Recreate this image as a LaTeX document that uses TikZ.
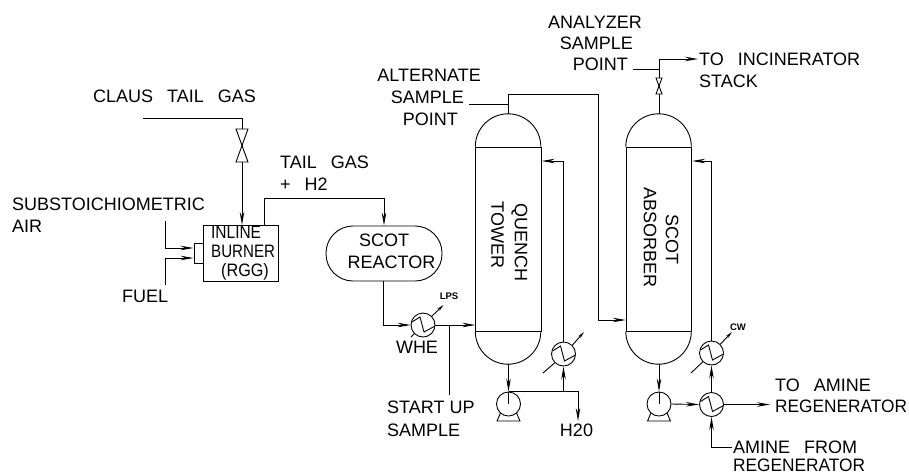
\documentclass[tikz,border=0pt]{standalone}
\usepackage{fontspec}
\setmainfont{Liberation Sans}
\usetikzlibrary{arrows.meta, calc}

\newcommand{\wsp}{\hspace*{14pt}}

\tikzset{
  line/.style={draw, line width=0.9pt},
  flow/.style={line, -{Stealth[length=13pt, width=4.5pt]}},
  tipflow/.style={line, -{Stealth[length=7pt, width=3pt]}},
  txt/.style={inner sep=0pt, font=\fontsize{18}{20}\selectfont},
  tiny/.style={inner sep=0pt, font=\fontsize{9.5}{10}\selectfont\bfseries},
  exch/.style={draw, line width=0.9pt, circle, inner sep=0pt, minimum size=24pt,
    path picture={\draw[line width=0.9pt] ($(path picture bounding box.center)+(-11pt,3pt)$) -- ++(8pt,5pt) -- ++(4pt,-15pt) -- ++(11pt,6pt);}},
  pump/.style={draw, line width=0.9pt, circle, inner sep=0pt, minimum size=24pt},
  vessel/.style={draw, line width=0.9pt, inner sep=0pt, minimum width=65.5pt, minimum height=184pt},
  valve/.style={draw, line width=0.9pt, fill=white},
}

\begin{document}
\begin{tikzpicture}[x=1pt, y=-1pt]
   \useasboundingbox (0,0) rectangle (909,475);

   % equipment
   \node[draw, line width=0.9pt, inner sep=0pt, minimum width=74.5pt, minimum height=55.5pt] (burner) at (240.7,253.2) {};
   \node[draw, line width=0.9pt, inner sep=0pt, minimum width=9.5pt, minimum height=20pt] (nozzle) at (198.7,253) {};
   \node[draw, line width=0.9pt, rounded corners=27pt, inner sep=0pt, minimum width=116pt, minimum height=55pt] (reactor) at (384,253.5) {};
   \node[vessel] (quench) at (508.5,239) {};
   \node[vessel] (absorber) at (659,239) {};
   \draw[line width=0.9pt] (quench.north west) arc[start angle=180, end angle=0, radius=32.75pt]
      (quench.south west) arc[start angle=180, end angle=360, radius=32.75pt];
   \draw[line width=0.9pt] (absorber.north west) arc[start angle=180, end angle=0, radius=32.75pt]
      (absorber.south west) arc[start angle=180, end angle=360, radius=32.75pt];
   \coordinate (quenchtop) at (508.5,114);
   \coordinate (quenchbot) at (508.5,363.5);
   \coordinate (abstop) at (659,114);
   \coordinate (absbot) at (659,363.5);

   \node[exch] (whe) at (423,325) {};
   \node[exch] (quenchcool) at (563.5,354) {};
   \node[exch] (abscool) at (711.5,353) {};
   \node[exch] (amineex) at (711.5,404.5) {};
   \node[pump] (quenchpump) at (508.5,404) {};
   \node[pump] (abspump) at (659,404) {};
   \foreach \p in {quenchpump, abspump} {
      \draw[line width=0.9pt] (\p.center) -- (\p.north);
      \draw[line width=0.9pt] ($(\p.center)+(-8pt,-9pt)$) -- ($(\p.center)+(-11.5pt,-17pt)$) -- ($(\p.center)+(11.5pt,-17pt)$) -- ($(\p.center)+(8pt,-9pt)$);
   }

   % free ends
   \coordinate (clausin) at (143,118);
   \coordinate (airin) at (165,221);
   \coordinate (fuelin) at (165,285);
   \coordinate (startup) at (449,395);
   \coordinate (altstub) at (469,104);
   \coordinate (anastub) at (633,69);
   \coordinate (stackout) at (698,59);
   \coordinate (h2oout) at (578,421);
   \coordinate (regenout) at (770,404.5);
   \coordinate (aminein) at (732,447);
   \coordinate (lpstip) at (443.5,305);
   \coordinate (wheend) at (411,337);
   \coordinate (qctip) at (584,332);
   \coordinate (qcend) at (543,373);
   \coordinate (actip) at (732,332);
   \coordinate (acend) at (691,373);

   % lines
   \draw[flow] (clausin) -| (burner.north -| 242,0);
   \draw[flow] (airin) |- ($(nozzle.west)+(0,-5)$);
   \draw[flow] (fuelin) |- ($(nozzle.west)+(0,5)$);
   \draw[flow] (burner.north -| 264,0) |- (384,198) -- (reactor.north);
   \draw[flow] (reactor.south -| 383,0) |- (whe.west);
   \draw[flow] (whe.east) -- (quench.west |- whe.east);
   \draw[line] (startup) -- (startup |- whe.east);
   \draw[flow] (quenchtop) -- (508.5,94) -| (598,320) -- (absorber.west |- 598,320);
   \draw[line] (altstub) -- (altstub -| quenchtop);
   \draw[flow] (abstop) |- (stackout);
   \draw[line] (anastub) -- (anastub -| abstop);
   \draw[flow] (quenchbot) -- (quenchpump.north);
   \draw[flow] (absbot) -- (abspump.north);
   \draw[flow] (quenchpump.north) -| (h2oout);
   \draw[flow] (quenchcool.south |- quenchpump.north) -- (quenchcool.south);
   \draw[flow] (quenchcool.north) |- (quench.east |- 0,161);
   \draw[flow] (abspump.east) -- (amineex.west);
   \draw[flow] (amineex.east) -- (regenout);
   \draw[flow] (aminein) -| (amineex.south);
   \draw[flow] (amineex.north) -- (abscool.south);
   \draw[flow] (abscool.north) |- (absorber.east |- 0,161);
   \draw[line] (wheend) -- (whe.south west);
   \draw[tipflow] (whe.north east) -- (lpstip);
   \draw[line] (qcend) -- (quenchcool.south west);
   \draw[tipflow] (quenchcool.north east) -- (qctip);
   \draw[line] (acend) -- (abscool.south west);
   \draw[tipflow] (abscool.north east) -- (actip);

   % valves
   \draw[valve] (236,129) -- (248,129) -- (236,162) -- (248,162) -- cycle;
   \draw[valve] (656,78) -- (662,78) -- (656,94) -- (662,94) -- cycle;

   % labels
   \node[txt, anchor=west] (claus) at (93,96.5) {CLAUS\wsp TAIL\wsp GAS};
   \node[txt, anchor=west] (tailgas) at (280,162) {TAIL\wsp GAS};
   \node[txt, anchor=west] (plush) at (280,184) {+\wsp H2};
   \node[txt, anchor=west] (subair) at (12,204) {SUBSTOICHIOMETRIC};
   \node[txt, anchor=west] (air) at (12,226) {AIR};
   \node[txt, anchor=west] (fuel) at (122,296) {FUEL};
   \node[txt, anchor=west, xscale=0.86] (inline) at (211,232.5) {INLINE};
   \node[txt, anchor=west, xscale=0.84] (burnertxt) at (211,251.5) {BURNER};
   \node[txt, anchor=west, xscale=0.9] (rgg) at (221,272) {(RGG)};
   \node[txt] (scot) at (384,240.5) {SCOT};
   \node[txt] (reactortxt) at (391.5,262.5) {REACTOR};
   \node[txt] (whetxt) at (417,347) {WHE};
   \node[tiny] (lps) at (449,296.7) {LPS};
   \node[tiny] (cw) at (738,327) {CW};
   \node[txt, anchor=west] (startuptxt) at (387,407) {START UP};
   \node[txt, anchor=west] (sampletxt) at (387,430) {SAMPLE};
   \node[txt, anchor=east] (alt1) at (481,75.5) {ALTERNATE};
   \node[txt, anchor=east] (alt2) at (464,97) {SAMPLE};
   \node[txt, anchor=east] (alt3) at (458,119) {POINT};
   \node[txt, anchor=east] (ana1) at (642,22) {ANALYZER};
   \node[txt, anchor=east] (ana2) at (633,43.5) {SAMPLE};
   \node[txt, anchor=east] (ana3) at (628,64.5) {POINT};
   \node[txt, anchor=west] (stack1) at (699,59) {TO\wsp INCINERATOR};
   \node[txt, anchor=west] (stack2) at (699,81) {STACK};
   \node[txt] (h2o) at (576.5,430) {H20};
   \node[txt, anchor=west] (toamine) at (775,385) {TO\wsp AMINE};
   \node[txt, anchor=west, xscale=0.96] (toregen) at (775,406.5) {REGENERATOR};
   \node[txt, anchor=west] (fromamine) at (733,447) {AMINE\wsp FROM};
   \node[txt, anchor=west, xscale=0.96] (fromregen) at (733,465.5) {REGENERATOR};
   \node[txt, rotate=-90] (quenchtxt) at (519.5,242) {QUENCH};
   \node[txt, rotate=-90] (towertxt) at (497.5,235) {TOWER};
   \node[txt, rotate=-90] (scottxt) at (672,239) {SCOT};
   \node[txt, rotate=-90] (abstxt) at (650,237.5) {ABSORBER};
\end{tikzpicture}
\end{document}
